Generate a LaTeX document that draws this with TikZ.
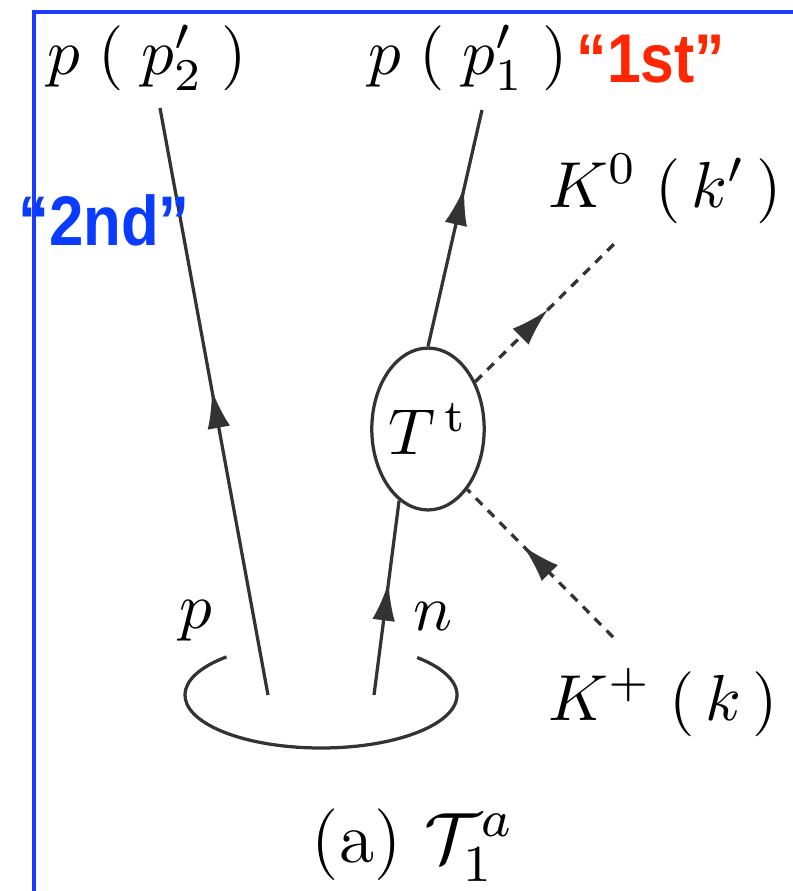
\documentclass[tikz,border=0pt]{standalone}
\usepackage{amsmath}
\usepackage{fontspec}
\usepackage{tikz}
\usetikzlibrary{arrows.meta, shapes.geometric, decorations.markings}
\newfontfamily\remarkfont[FakeStretch=0.88]{Liberation Sans}
\definecolor{firstred}{RGB}{255,38,0}
\definecolor{secondblue}{RGB}{10,60,255}
\definecolor{frameblue}{RGB}{25,60,255}

\begin{document}
\begin{tikzpicture}[x=0.1538pt, y=-0.1538pt,
    baryonline/.style={draw=black!80, line width=0.5pt},
    kaonline/.style={draw=black!80, line width=0.5pt, dash pattern=on 1.4pt off 1.2pt},
    midarrow/.style={postaction={decorate}, decoration={markings, mark=at position #1 with {\arrow{Latex[length=5.9pt, width=3.5pt]}}}},
    tblock/.style={ellipse, draw=black!80, line width=0.5pt, minimum width=17pt, minimum height=24.9pt, inner sep=0pt},
    mathlabel/.style={anchor=base, inner sep=0pt},
    remark/.style={anchor=base, inner sep=0pt, font=\remarkfont\bfseries\fontsize{#1}{#1}\selectfont},
    frameline/.style={draw=frameblue, line width=0.6pt}
]
\useasboundingbox (0,0) rectangle (793,891);

% slide frame
\draw[frameline] (34,891) -- (34,12) -- (793,12);

% the t-matrix blob and the line ends
\node[tblock] (Tt) at (428,429) {$T^{\,\mathrm{t}}$};
\coordinate (pstart) at (268,695);
\coordinate (nstart) at (374,695);
\coordinate (p2end) at (160,108);
\coordinate (p1end) at (482,110);
\coordinate (k0end) at (615,243);
\coordinate (kpstart) at (613,637);
\coordinate (pair) at (321,695);

% deuteron (open ellipse)
\draw[baryonline] (pair) ++(134:20.92pt and 8.15pt) arc[start angle=134, end angle=405, x radius=20.92pt, y radius=8.15pt];

% nucleon lines
\draw[baryonline, midarrow=0.52] (pstart) -- (p2end);
\draw[baryonline, midarrow=0.58] (nstart) -- (Tt.248);
\draw[baryonline, midarrow=0.675] (Tt.north) -- (p1end);

% kaon lines
\draw[kaonline, midarrow=0.52] (Tt.45) -- (k0end);
\draw[kaonline, midarrow=0.62] (kpstart) -- (Tt.-57);

% labels
\node[mathlabel] (p2lab) at (147,74) {$p\;(\;p'_2\;)$};
\node[mathlabel] (p1lab) at (468,74) {$p\;(\;p'_1\;)$};
\node[mathlabel] (k0lab) at (665,207) {$K^0\;(\,k'\,)$};
\node[mathlabel] (kplab) at (663,720) {$K^+\;(\,k\,)$};
\node[mathlabel] (plab) at (196,628) {$p$};
\node[mathlabel] (nlab) at (433,630) {$n$};
\node[mathlabel, font=\fontsize{11}{13}\selectfont] (caption) at (413,862) {(a) $\mathcal{T}^a_1$};

% handwritten-style notes
\node[remark=10.6, text=firstred] (first) at (651,82) {“1st”};
\node[remark=10.8, text=secondblue] (second) at (104,245) {“2nd”};

\end{tikzpicture}
\end{document}
